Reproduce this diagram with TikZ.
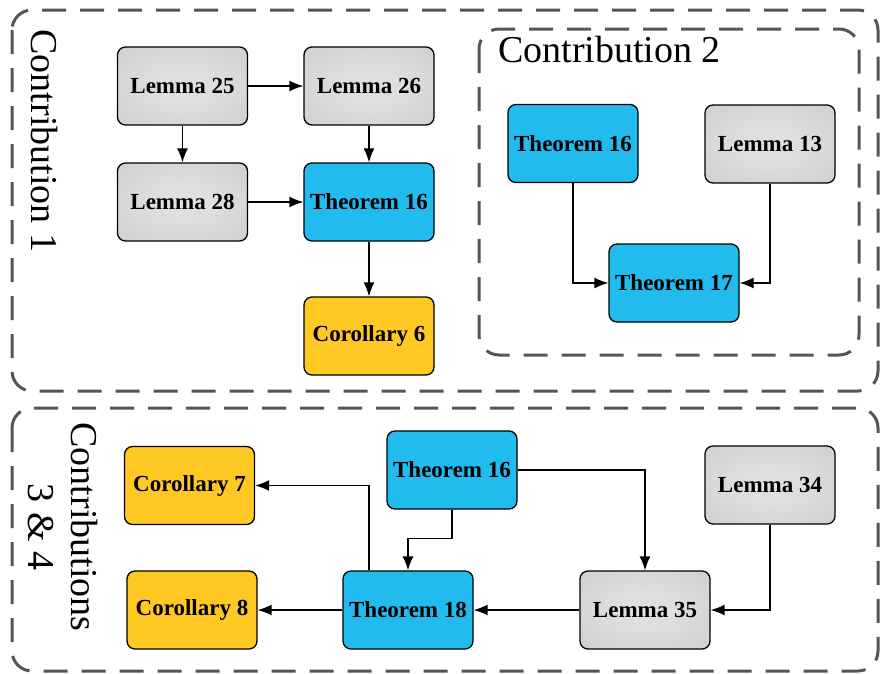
\documentclass[tikz,border=0pt]{standalone}
\usepackage{fontspec}
\setmainfont{Liberation Serif}
\usetikzlibrary{arrows.meta,calc}
\definecolor{thblue}{HTML}{22BBEE}
\definecolor{coryel}{HTML}{FFC822}
\definecolor{dashgray}{HTML}{555555}
\pgfdeclareradialshading{lemshade}{\pgfpoint{0bp}{0bp}}{color(0bp)=(white!88!black); color(12bp)=(white!87!black); color(50bp)=(white!78!black); color(72bp)=(white!75!black)}
\begin{document}
\begin{tikzpicture}[x=1pt,y=-1pt,
  box/.style={draw=black,line width=1.3pt,rounded corners=8pt,minimum width=130pt,minimum height=78pt,inner sep=0pt,
    font=\fontsize{23}{25}\selectfont\bfseries},
  lem/.style={box,shading=lemshade},
  thm/.style={box,fill=thblue},
  cor/.style={box,fill=coryel},
  region/.style={draw=dashgray,line width=3pt,dash pattern=on 24pt off 14pt,rounded corners=20pt},
  lbl/.style={font=\fontsize{38}{43}\selectfont,inner sep=0pt},
  arr/.style={draw=black,line width=1.4pt,-{Latex[length=14pt,width=11pt]}}
]
\useasboundingbox (0,0) rectangle (880,673);
% regions
\draw[region] (12,10) rectangle (878,391);
\draw[region] (12,408) rectangle (878,671);
\draw[region] (479,29) rectangle (859,355);
% labels
\node[lbl,rotate=-90] (c1) at (44,141) {Contribution 1};
\node[lbl,anchor=base west] (c2) at (498,62) {Contribution 2};
\node[lbl,rotate=-90,align=center] (c34) at (63,527) {Contributions\\3 \& 4};
% contribution 1
\node[lem] (L25) at (182.5,86) {Lemma 25};
\node[lem] (L26) at (369,86) {Lemma 26};
\node[lem] (L28) at (182.5,202) {Lemma 28};
\node[thm] (T16a) at (369,202) {Theorem 16};
\node[cor] (C6) at (369,336) {Corollary 6};
\draw[arr] (L25) -- (L26);
\draw[arr] (L25) -- (L28);
\draw[arr] (L26) -- (T16a);
\draw[arr] (L28) -- (T16a);
\draw[arr] (T16a) -- (C6);
% contribution 2
\node[thm] (T16b) at (573,143.5) {Theorem 16};
\node[lem] (L13) at (770,144) {Lemma 13};
\node[thm] (T17) at (674,283) {Theorem 17};
\draw[arr] (T16b.south) |- (T17.west);
\draw[arr] (L13.south) |- (T17.east);
% contributions 3 & 4
\node[cor] (C7) at (189.5,485.5) {Corollary 7};
\node[cor] (C8) at (192,610) {Corollary 8};
\node[thm] (T16c) at (452,470) {Theorem 16};
\node[thm] (T18) at (408,610) {Theorem 18};
\node[lem] (L35) at (645,610) {Lemma 35};
\node[lem] (L34) at (770,485) {Lemma 34};
\coordinate (bend) at ($(T16c.south)+(0,29)$);
\draw[arr] (T16c.south) -- (bend) -| (T18.north);
\draw[arr] (T16c.east) -| (L35.north);
\draw[arr] (L34.south) |- (L35.east);
\draw[arr] (L35.west) -- (T18.east);
\draw[arr] (T18.west) -- (C8.east);
\draw[arr] ([xshift=-39pt]T18.north) |- (C7.east);
\end{tikzpicture}
\end{document}
